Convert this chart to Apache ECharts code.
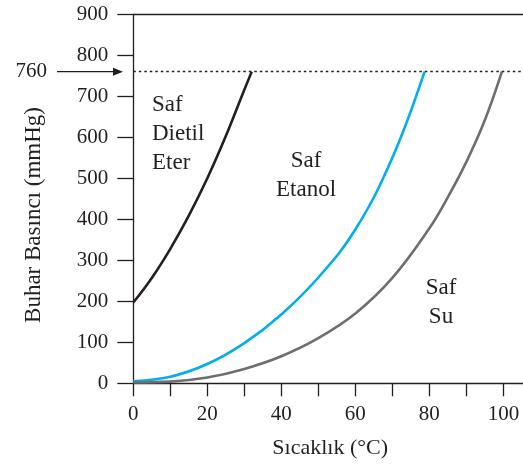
<!DOCTYPE html>
<html>
<head>
<meta charset="utf-8">
<script src="https://cdn.jsdelivr.net/npm/echarts@6/dist/echarts.min.js"></script>
<style>
  html, body { margin: 0; padding: 0; background: #fff; }
  #chart { width: 523px; height: 464px; }
</style>
</head>
<body>
<div id="chart"></div>
<script>
// buhar basıncı eğrileri (°C, mmHg)
var eterData = [[0, 197], [5, 257], [10, 328], [15, 409], [20, 500], [25, 603], [30, 716], [32, 760]];
var etanolData = [[0, 5], [10, 16], [20, 47], [30, 98], [40, 168], [50, 258], [60, 375], [70, 550], [78.7, 760]];
var suData = [[0, 2], [10, 4], [20, 14], [30, 35], [40, 66], [50, 110], [60, 170], [70, 257], [80, 378], [85, 454], [90, 540], [95, 642], [99.6, 760]];
var kaynamaEtiketleri = ['34.5°', '78.5°', '100.0°'];
var xTicks = [0, 10, 20, 30, 40, 50, 60, 70, 80, 90, 100];
var xLabels = [0, 20, 40, 60, 80, 100];
var atmBasinci = 760;

var koyu = '#231f20';
var yazi = 'Liberation Serif';

// son noktaya kaynama sıcaklığı etiketi koy
function withEndLabel(data, text, dx) {
  return data.map(function (p, i) {
    if (i < data.length - 1) return p;
    return {
      value: p,
      label: {
        show: true, position: 'top', formatter: text, offset: [dx, -2],
        fontFamily: yazi, fontSize: 22, color: koyu
      }
    };
  });
}

var chart = echarts.init(document.getElementById('chart'), null, { renderer: 'canvas' });

var option = {
  animation: false,
  backgroundColor: '#fff',
  grid: { left: 133.3, right: 0, top: 14.3, bottom: 80.7, containLabel: false, outerBoundsMode: 'none' },
  xAxis: [{
    type: 'value', min: 0, max: 105.3,
    name: 'Sıcaklık (°C)', nameLocation: 'middle', nameGap: 54,
    nameTextStyle: { fontFamily: yazi, fontSize: 22, color: koyu, padding: [0, 0, 0, 4] },
    axisLine: { show: true, lineStyle: { color: koyu, width: 1.3 } },
    axisTick: { show: true, inside: false, length: 13, customValues: xTicks, lineStyle: { color: koyu, width: 1.3 } },
    axisLabel: { customValues: xLabels, margin: 21, fontFamily: yazi, fontSize: 21, color: koyu },
    splitLine: { show: false }
  }, {
    type: 'value', position: 'top', min: 0, max: 105.3,
    axisLine: { show: true, onZero: false, lineStyle: { color: koyu, width: 1.3 } },
    axisTick: { show: false }, axisLabel: { show: false }, splitLine: { show: false }
  }],
  yAxis: {
    type: 'value', min: 0, max: 900, interval: 100,
    axisLine: { show: true, lineStyle: { color: koyu, width: 1.3 } },
    axisTick: { show: true, inside: false, length: 16, lineStyle: { color: koyu, width: 1.3 } },
    axisLabel: { margin: 25, fontFamily: yazi, fontSize: 21, color: koyu },
    splitLine: { show: false }
  },
  series: [{
    name: 'Saf Dietil Eter', type: 'line', smooth: 0.4, showSymbol: false, symbol: 'none',
    lineStyle: { color: koyu, width: 2.6 },
    data: withEndLabel(eterData, kaynamaEtiketleri[0], -6),
    markLine: {
      silent: true, symbol: ['none', 'none'], label: { show: false },
      lineStyle: { color: koyu, type: [2.5, 3], width: 1.4 },
      data: [{ yAxis: atmBasinci }]
    }
  }, {
    name: 'Saf Etanol', type: 'line', smooth: 0.4, showSymbol: false, symbol: 'none',
    lineStyle: { color: '#00aeef', width: 2.6 },
    data: withEndLabel(etanolData, kaynamaEtiketleri[1], 0)
  }, {
    name: 'Saf Su', type: 'line', smooth: 0.4, showSymbol: false, symbol: 'none',
    lineStyle: { color: '#6d6e71', width: 2.6 },
    data: withEndLabel(suData, kaynamaEtiketleri[2], -12)
  }]
};
chart.setOption(option);

// 760 oku ve bölge yazıları
var y760 = chart.convertToPixel({ yAxisIndex: 0 }, atmBasinci);
var metin = { fontFamily: yazi, fontSize: 23, fill: koyu, lineHeight: 29 };
chart.setOption({
  graphic: [
    { type: 'line', shape: { x1: 57, y1: y760, x2: 116, y2: y760 }, style: { stroke: koyu, lineWidth: 1.3 } },
    { type: 'polygon', shape: { points: [[123, y760], [113, y760 - 4], [113, y760 + 4]] }, style: { fill: koyu } },
    { type: 'text', x: 47, y: y760, style: { text: String(atmBasinci), fontFamily: yazi, fontSize: 21, fill: koyu, align: 'right', verticalAlign: 'middle' } },
    { type: 'text', x: 34, y: 215, rotation: Math.PI / 2, style: { text: 'Buhar Basıncı (mmHg)', fontFamily: yazi, fontSize: 23, fill: koyu, align: 'center', verticalAlign: 'middle' } },
    { type: 'text', x: 152, y: 90, style: Object.assign({ text: 'Saf\nDietil\nEter', align: 'left' }, metin) },
    { type: 'text', x: 306, y: 146, style: Object.assign({ text: 'Saf\nEtanol', align: 'center' }, metin) },
    { type: 'text', x: 441, y: 273, style: Object.assign({ text: 'Saf\nSu', align: 'center' }, metin) }
  ]
});
</script>
</body>
</html>
